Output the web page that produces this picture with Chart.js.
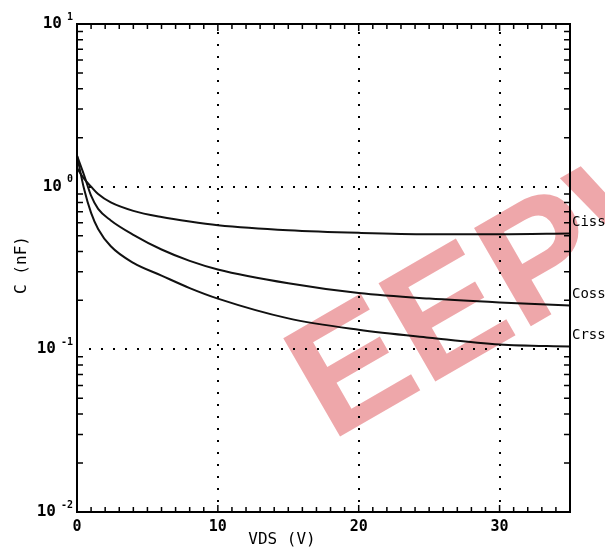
<!DOCTYPE html>
<html>
<head>
<meta charset="utf-8">
<script src="https://cdn.jsdelivr.net/npm/chart.js@4.4.0/dist/chart.umd.min.js"></script>
<style>
  body { margin: 0; background: #fff; }
  canvas { display: block; }
</style>
</head>
<body>
<canvas id="c" width="605" height="550"></canvas>
<script>
// capacitance vs VDS
const vds  = [0, 0.5, 1, 1.5, 2.4, 4, 6, 8, 10, 15, 20, 25, 30, 35];
const ciss = [1.3, 1.12, 1.0, 0.9, 0.8, 0.71, 0.65, 0.61, 0.58, 0.54, 0.52, 0.51, 0.51, 0.515];
const coss = [1.55, 1.18, 0.88, 0.73, 0.62, 0.506, 0.411, 0.35, 0.31, 0.255, 0.222, 0.205, 0.194, 0.186];
const crss = [1.55, 0.97, 0.69, 0.55, 0.43, 0.34, 0.284, 0.238, 0.205, 0.155, 0.132, 0.118, 0.107, 0.104];
const seriesNames = ['Ciss', 'Coss', 'Crss'];

const xTicks = [0, 10, 20, 30];
const yDecades = [-2, -1, 0, 1];

const FONT = '"DejaVu Sans Mono", monospace';

function pts(ys) {
  return vds.map((v, i) => ({ x: v, y: ys[i] }));
}

// frame, ticks, dotted grid, labels, watermark
const decor = {
  id: 'decor',
  beforeDatasetsDraw(chart) {
    const { ctx, chartArea: a, scales: { x, y } } = chart;
    ctx.save();
    // dotted grid
    ctx.fillStyle = '#000';
    for (const v of [10, 20, 30]) {
      const px = Math.round(x.getPixelForValue(v));
      for (let py = a.bottom - 12; py > a.top + 4; py -= 12) ctx.fillRect(px - 1, py, 2, 2);
    }
    for (const d of [-1, 0]) {
      const py = Math.round(y.getPixelForValue(Math.pow(10, d)));
      for (let px = a.left + 12; px < a.right - 4; px += 12) ctx.fillRect(px, py - 1, 2, 2);
    }
    // minor ticks x (every 1 V), top and bottom
    ctx.strokeStyle = '#000';
    ctx.lineWidth = 1.5;
    for (let v = 1; v < 35; v++) {
      const px = x.getPixelForValue(v);
      const len = v % 10 === 0 ? 7 : 5;
      ctx.beginPath();
      ctx.moveTo(px, a.bottom); ctx.lineTo(px, a.bottom - len);
      ctx.moveTo(px, a.top); ctx.lineTo(px, a.top + len);
      ctx.stroke();
    }
    // minor ticks y (log), left and right
    for (let d = -2; d < 1; d++) {
      for (let m = 2; m <= 9; m++) {
        const py = y.getPixelForValue(m * Math.pow(10, d));
        ctx.beginPath();
        ctx.moveTo(a.left, py); ctx.lineTo(a.left + 6, py);
        ctx.moveTo(a.right, py); ctx.lineTo(a.right - 6, py);
        ctx.stroke();
      }
    }
    ctx.restore();
  },
  afterDraw(chart) {
    const { ctx, chartArea: a, scales: { x, y } } = chart;
    ctx.save();
    // watermark
    ctx.globalCompositeOperation = 'multiply';
    ctx.translate(468, 310);
    ctx.rotate(-30 * Math.PI / 180);
    ctx.fillStyle = 'rgba(224, 95, 100, 0.55)';
    ctx.font = 'bold 165px "Liberation Sans", sans-serif';
    ctx.textAlign = 'left';
    ctx.textBaseline = 'middle';
    ctx.fillText('EEPW', -185, 0);
    ctx.restore();

    ctx.save();
    // frame
    ctx.strokeStyle = '#000';
    ctx.lineWidth = 2;
    ctx.strokeRect(a.left, a.top, a.right - a.left, a.bottom - a.top);

    ctx.fillStyle = '#000';
    // x tick labels
    ctx.font = 'bold 15px ' + FONT;
    ctx.textAlign = 'center';
    ctx.textBaseline = 'top';
    for (const v of xTicks) ctx.fillText(String(v), x.getPixelForValue(v), a.bottom + 8);
    // y tick labels 10^n
    for (const d of yDecades) {
      const py = y.getPixelForValue(Math.pow(10, d));
      ctx.font = 'bold 10px ' + FONT;
      ctx.textAlign = 'right';
      ctx.textBaseline = 'middle';
      ctx.fillText(String(d), 73, py - 7);
      const w = ctx.measureText(String(d)).width;
      ctx.font = 'bold 16px ' + FONT;
      ctx.fillText('10', 73 - w - 5, py);
    }
    // axis titles
    ctx.font = '16px ' + FONT;
    ctx.textAlign = 'center';
    ctx.textBaseline = 'middle';
    ctx.fillText('VDS (V)', 282, 540);
    ctx.save();
    ctx.translate(22, 265);
    ctx.rotate(-Math.PI / 2);
    ctx.fillText('C (nF)', 0, 0);
    ctx.restore();
    // curve names at the right end
    ctx.font = '14px ' + FONT;
    ctx.textAlign = 'left';
    ctx.textBaseline = 'middle';
    [ciss, coss, crss].forEach((s, i) => {
      const py = y.getPixelForValue(s[s.length - 1]) - 11;
      ctx.fillText(seriesNames[i], a.right + 2, py);
    });
    ctx.restore();
  }
};

const lineStyle = {
  borderColor: '#111',
  borderWidth: 2,
  pointRadius: 0,
  fill: false,
  cubicInterpolationMode: 'monotone'
};

new Chart(document.getElementById('c'), {
  type: 'line',
  data: {
    datasets: [
      { label: seriesNames[0], data: pts(ciss), ...lineStyle },
      { label: seriesNames[1], data: pts(coss), ...lineStyle },
      { label: seriesNames[2], data: pts(crss), ...lineStyle }
    ]
  },
  options: {
    responsive: false,
    animation: false,
    layout: { padding: { left: 77, right: 35, top: 24, bottom: 38 } },
    plugins: { legend: { display: false }, tooltip: { enabled: false } },
    scales: {
      x: { type: 'linear', min: 0, max: 35, display: false },
      y: { type: 'logarithmic', min: 0.01, max: 10, display: false }
    }
  },
  plugins: [decor]
});
</script>
</body>
</html>
